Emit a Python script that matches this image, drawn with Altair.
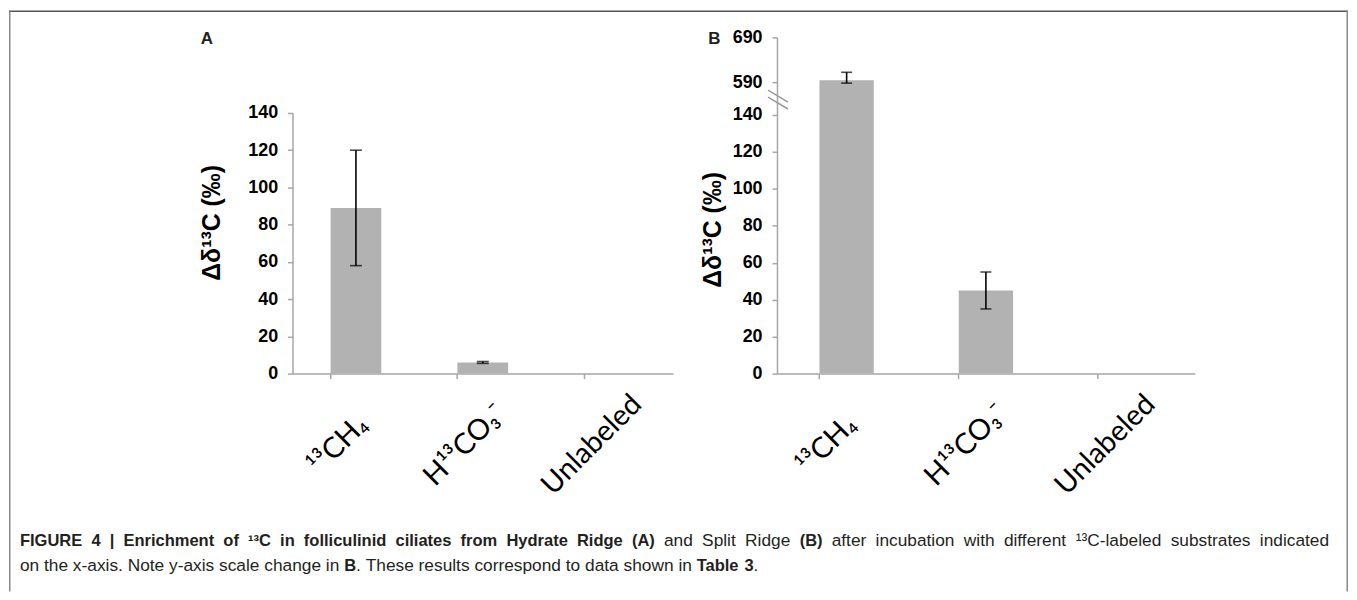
import altair as alt
import pandas as pd

# ---------------- data ----------------
categories = ["¹³CH₄", "H¹³CO₃⁻", "Unlabeled"]
hr_mean = [89, 6, 0]        # Hydrate Ridge (A)
hr_err = [31, 0.5, 0]
sr_mean = [594, 45, 0]      # Split Ridge (B)
sr_err = [18, 10, 0]
y_ticks_a = [0, 20, 40, 60, 80, 100, 120, 140]
y_ticks_b = [0, 20, 40, 60, 80, 100, 120, 140, 590, 690]
y_title = "Δδ¹³C (‰)"
# caption runs: (text, bold, space after)
caption_line1 = [
    ("FIGURE 4 | Enrichment of ¹³C in folliculinid ciliates from Hydrate Ridge (A)", True, True),
    ("and Split Ridge", False, True),
    ("(B)", True, True),
    ("after incubation with different ¹³C-labeled substrates indicated", False, False),
]
caption_line2 = [
    ("on the x-axis. Note y-axis scale change in", False, True),
    ("B", True, False),
    (". These results correspond to data shown in", False, True),
    ("Table 3", True, False),
    (".", False, False),
]

W, H = 1346, 584
BAR = "#b2b2b2"
AX = "#a6a6a6"
CAP_FS = 17.4
CAP_FS_BOLD = 16.6


def frame(means, errs):
    df = pd.DataFrame({"cat": categories, "mean": means, "err": errs})
    df["lo"] = df["mean"] - df["err"]
    df["hi"] = df["mean"] + df["err"]
    return df


dfA = frame(hr_mean, hr_err)
dfB = frame(sr_mean, sr_err)


def caps(df):
    d = df[df["err"] > 0]
    return pd.concat([
        pd.DataFrame({"cat": d["cat"], "v": d["lo"]}),
        pd.DataFrame({"cat": d["cat"], "v": d["hi"]}),
    ])


def x_axis(offset_label):
    return alt.Axis(orient="bottom", offset=365 - H, title=None, bandPosition=0,
                    labelAngle=315, labelAlign="center", labelBaseline="middle",
                    labelPadding=66, labelOffset=offset_label, labelFont="Lato",
                    labelFontSize=29, labelColor="black", labelOverlap=False,
                    labelLimit=0, labelBound=False, tickSize=5, tickColor=AX,
                    tickWidth=1.5, domainColor=AX, domainWidth=1.5, grid=False)


def y_axis(values, offset, tx, ty):
    return alt.Axis(orient="left", offset=offset, values=values, format="d",
                    title=y_title, titleFont="Liberation Sans", titleFontSize=25,
                    titleFontWeight="bold", titleColor="black", titleAngle=270,
                    titleX=tx, titleY=ty, titleAlign="center", titleBaseline="middle",
                    labelFont="Liberation Sans", labelFontSize=18,
                    labelFontWeight="bold", labelColor="black", labelPadding=10,
                    labelBaseline="middle", tickSize=5, tickColor=AX, tickWidth=1.5,
                    domainColor=AX, domainWidth=1.5, grid=False)


def panel(df, xscale, yscale, xax, yax, capw):
    x = alt.X("cat:N", scale=xscale, sort=categories, axis=xax)
    bars = alt.Chart(df).mark_bar(color=BAR).encode(
        x=x, y=alt.Y("mean:Q", scale=yscale, axis=yax))
    err = alt.Chart(df[df["err"] > 0]).mark_rule(color="black", strokeWidth=1.6).encode(
        x=x, y=alt.Y("lo:Q", scale=yscale, axis=yax), y2="hi:Q")
    cap = alt.Chart(caps(df)).mark_tick(color="black", thickness=1.6, size=capw).encode(
        x=x, y=alt.Y("v:Q", scale=yscale, axis=yax))
    return alt.layer(bars, err, cap)


xA = alt.Scale(domain=categories, range=[285, 667.5], paddingInner=0.6, paddingOuter=0.3)
yA = alt.Scale(domain=[0, 140], range=[365, 103], nice=False, zero=False)
xB = alt.Scale(domain=categories, range=[772, 1192], paddingInner=0.61, paddingOuter=0.305)
yB = alt.Scale(domain=[0, 140, 590, 690], range=[365, 105, 72, 27], nice=False, zero=False)

pA = panel(dfA, xA, yA, x_axis(-18), y_axis(y_ticks_a, -285, -81, 213), 12)
pB = panel(dfB, xB, yB, x_axis(-20), y_axis(y_ticks_b, -772, -65, 220), 11)

one = pd.DataFrame({"k": [0]})

# Arial / Liberation Sans advance widths (1/1000 em) used to lay out caption words
_REG = dict(zip("ABCDEFGHIJKLMNOPQRSTUVWXYZ",
                [667, 667, 722, 722, 667, 611, 778, 722, 278, 500, 667, 556, 833, 722, 778,
                 667, 778, 722, 667, 611, 722, 667, 944, 667, 667, 611]))
_REG.update(zip("abcdefghijklmnopqrstuvwxyz",
                [556, 556, 500, 556, 556, 278, 556, 556, 222, 222, 500, 222, 833, 556, 556,
                 556, 556, 333, 500, 278, 556, 500, 722, 500, 500, 500]))
_REG.update({" ": 278, "(": 333, ")": 333, ".": 278, ",": 278, "-": 333, "|": 260,
             "¹": 333, "³": 333, **{d: 556 for d in "0123456789"}})
_BOLD = dict(_REG)
_BOLD.update(zip("ABJKL", [722, 722, 556, 722, 611]))
_BOLD.update(zip("abcdefghijklmnopqrstuvwxyz",
                 [556, 611, 556, 611, 556, 333, 611, 611, 278, 278, 556, 278, 889, 611, 611,
                  611, 611, 389, 556, 333, 611, 556, 778, 556, 556, 500]))
_BOLD["|"] = 280
SP = 0.278


def fs_of(bold):
    return CAP_FS_BOLD if bold else CAP_FS


def text_w(s, bold):
    t = _BOLD if bold else _REG
    return sum(t.get(c, 556) for c in s) / 1000.0 * fs_of(bold)


def seg(text, x, y, bold=False, size=16, font="Liberation Sans", align="left",
        baseline="alphabetic"):
    return alt.Chart(one).mark_text(align=align, baseline=baseline, font=font, fontSize=size,
                                    fontWeight="bold" if bold else "normal",
                                    color="#231f20").encode(
        x=alt.value(x), y=alt.value(y), text=alt.value(text))


def caption(runs, x0, y, right=None):
    # split into words; a word is glued to the next one when no space follows it
    words = []  # (text, bold, gap_after)
    for s, b, sp in runs:
        parts = s.split(" ")
        for i, p in enumerate(parts):
            last = i == len(parts) - 1
            words.append((p, b, (not last) or sp))
    natural = sum(text_w(w, b) + (SP * fs_of(b) if g else 0) for w, b, g in words[:-1])
    natural += text_w(words[-1][0], words[-1][1])
    ngaps = sum(1 for _, _, g in words[:-1] if g)
    extra = 0.0 if right is None else max(0.0, (right - x0 - natural) / ngaps)
    out, x = [], x0
    for w, b, g in words:
        out.append(seg(w, x, y, b, fs_of(b)))
        x += text_w(w, b) + ((SP * fs_of(b) + extra) if g else 0)
    return out


def line(x, x2, y, y2, color="#777777", w=1.5):
    return alt.Chart(one).mark_rule(color=color, strokeWidth=w).encode(
        x=alt.value(x), x2=alt.value(x2), y=alt.value(y), y2=alt.value(y2))


deco = [
    # figure frame
    line(0, W, 0.75, 0.75, "#555555", 1.5),
    line(0.75, 0.75, 0, H, "#888888", 1.5),
    line(W - 0.75, W - 0.75, 0, H, "#888888", 1.5),
    # axis break marks on panel B
    line(763, 783, 80, 92, "#999999", 1.5),
    line(763, 783, 87, 99, "#999999", 1.5),
    # panel letters
    seg("A", 199, 29, True, 17, align="center", baseline="middle"),
    seg("B", 709, 29, True, 17, align="center", baseline="middle"),
] + caption(caption_line1, 11, 538, right=1327) + caption(caption_line2, 11, 563)

chart = alt.layer(pA, pB, *deco).resolve_scale(
    x="independent", y="independent").resolve_axis(
    x="independent", y="independent").properties(
    width=W, height=H, padding=0, background="white").configure_view(strokeWidth=0)

chart.save("out.html", embed_options={"renderer": "svg", "actions": False})
